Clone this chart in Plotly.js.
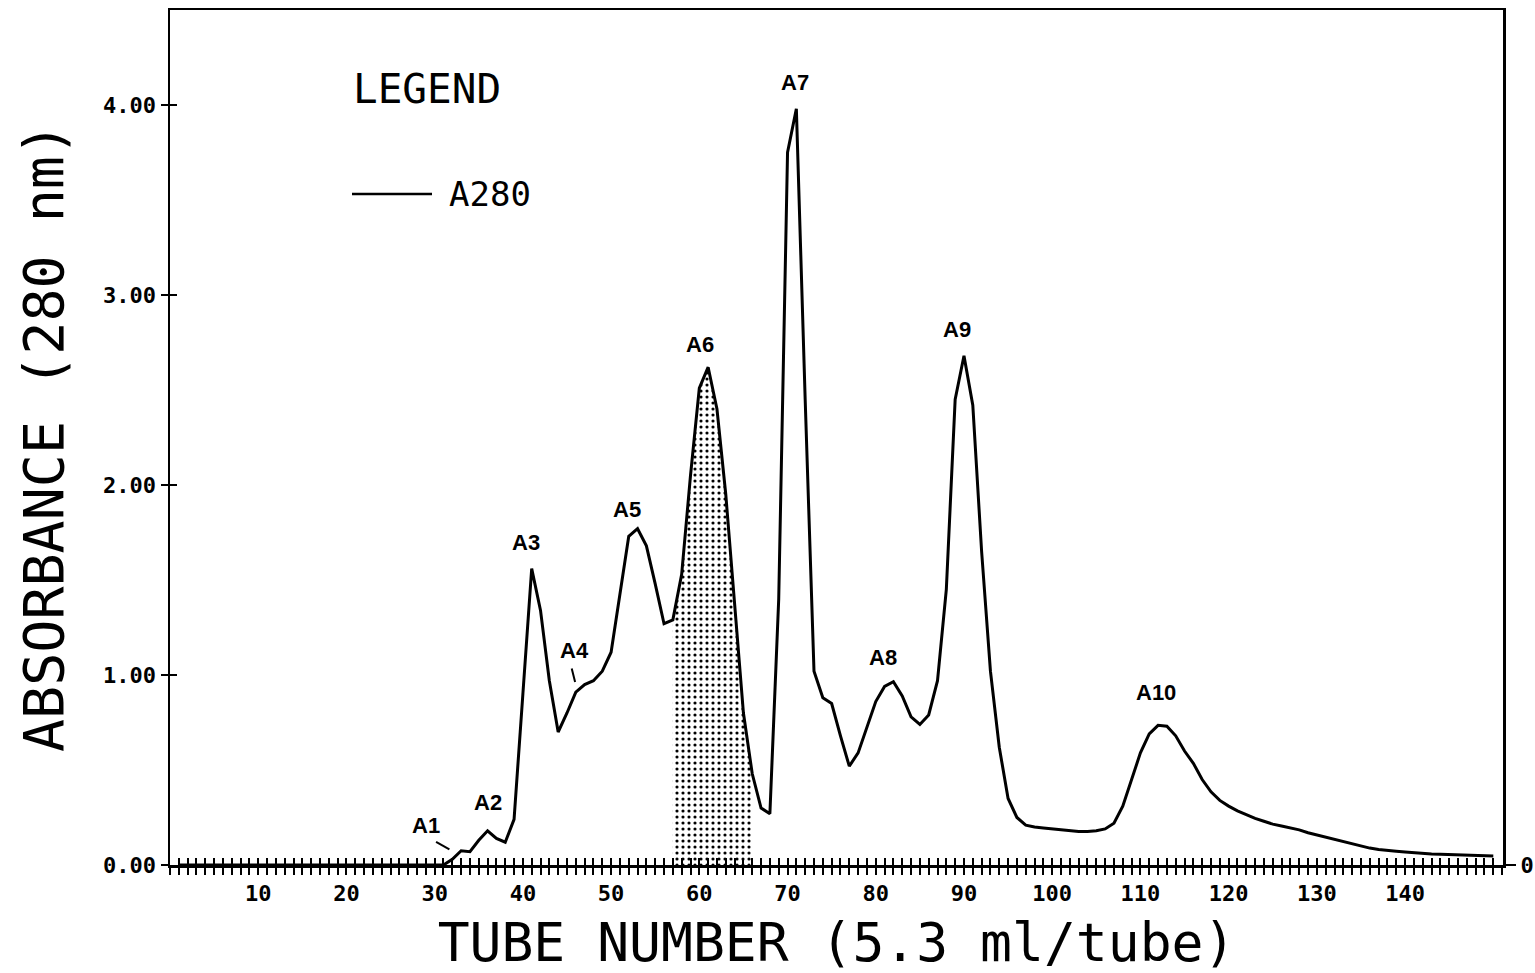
<!DOCTYPE html>
<html>
<head>
<meta charset="utf-8">
<script src="https://cdn.plot.ly/plotly-3.0.1.min.js"></script>
<style>html,body{margin:0;padding:0;background:#fff;}#chart{width:1535px;height:973px;}</style>
</head>
<body>
<div id="chart"></div>
<script>
// Absorbance at 280 nm for tubes 1..150
const absorbance = [
  0,0,0,0,0,0,0,0,0,0,            // 1-10
  0,0,0,0,0,0,0,0,0,0,            // 11-20
  0,0,0,0,0,0,0,0,0,0,            // 21-30
  0.00,0.03,0.075,0.07,0.13,0.18,0.14,0.12,0.24,0.90,   // 31-40
  1.56,1.34,0.97,0.70,0.80,0.91,0.95,0.97,1.02,1.12,    // 41-50
  1.42,1.73,1.77,1.68,1.48,1.27,1.29,1.53,2.05,2.51,    // 51-60
  2.62,2.40,1.95,1.35,0.80,0.48,0.30,0.27,1.40,3.75,    // 61-70
  3.98,2.45,1.02,0.88,0.85,0.68,0.52,0.59,0.73,0.86,    // 71-80
  0.94,0.965,0.89,0.78,0.74,0.79,0.97,1.45,2.45,2.68,   // 81-90
  2.42,1.65,1.02,0.62,0.35,0.25,0.21,0.20,0.195,0.19,   // 91-100
  0.185,0.178,0.176,0.176,0.18,0.19,0.22,0.31,0.45,0.59, // 101-110
  0.69,0.735,0.73,0.68,0.60,0.535,0.45,0.385,0.34,0.31,  // 111-120
  0.285,0.265,0.245,0.23,0.215,0.205,0.197,0.185,0.17,0.158, // 121-130
  0.145,0.133,0.122,0.11,0.099,0.089,0.082,0.076,0.072,0.068, // 131-140
  0.064,0.061,0.058,0.057,0.055,0.054,0.053,0.051,0.049,0.047 // 141-150
];
const firstTube = 1;
const tubes = absorbance.map((_, i) => firstTube + i);

// shaded fraction (tubes)
const shadeStart = 57;
const shadeEnd = 66;

// peak labels
const peakNames = ["A1","A2","A3","A4","A5","A6","A7","A8","A9","A10"];
const peakX = [29.0, 36.0, 40.3, 45.8, 51.8, 60.1, 70.9, 80.8, 89.2, 111.8];
const peakY = [0.21, 0.33, 1.70, 1.13, 1.87, 2.74, 4.12, 1.09, 2.82, 0.91];

// axis ticks
const xTickVals = [10,20,30,40,50,60,70,80,90,100,110,120,130,140];
const xTickText = ["10","20","30","40","50","60","70","80","90","100","110","120","130","140"];
const yTickVals = [0,1,2,3,4];
const yTickText = ["0.00","1.00","2.00","3.00","4.00"];

const XR = [0, 151.1];
const YR = [0, 4.5];

const shadeX = [], shadeY = [];
tubes.forEach((t, i) => { if (t >= shadeStart && t <= shadeEnd) { shadeX.push(t); shadeY.push(absorbance[i]); } });

const traces = [
  { x: shadeX, y: shadeY, type: 'scatter', mode: 'lines', fill: 'tozeroy',
    line: {width: 0, color: 'rgba(0,0,0,0)'},
    fillcolor: 'white',
    fillpattern: {shape: '.', fgcolor: 'black', bgcolor: 'white', size: 6, solidity: 0.22},
    hoverinfo: 'skip', showlegend: false },
  { x: tubes, y: absorbance, type: 'scatter', mode: 'lines', name: 'A280',
    line: {color: 'black', width: 3}, showlegend: false },
  { x: [], y: [], xaxis: 'x2', yaxis: 'y3', type: 'scatter', showlegend: false, hoverinfo: 'skip' },
  { x: [], y: [], xaxis: 'x', yaxis: 'y2', type: 'scatter', showlegend: false, hoverinfo: 'skip' }
];

const mono = 'DejaVu Sans Mono, monospace';
const tickFont = {family: mono, size: 22, color: 'black', weight: 'bold'};

const annotations = peakNames.map((n, i) => ({
  x: peakX[i], y: peakY[i], xref: 'x', yref: 'y', text: n, showarrow: false,
  xanchor: 'center', yanchor: 'middle',
  font: {family: 'Liberation Sans, Arial, sans-serif', size: 22, color: 'black', weight: 'bold'}
}));
annotations.push({x: (427-170)/1333, y: (865-89)/855, xref: 'paper', yref: 'paper', text: 'LEGEND', showarrow: false,
  xanchor: 'center', yanchor: 'middle',
  font: {family: mono, size: 41, color: 'black'}});
annotations.push({x: (490-170)/1333, y: (865-194)/855, xref: 'paper', yref: 'paper', text: 'A280', showarrow: false,
  xanchor: 'center', yanchor: 'middle',
  font: {family: mono, size: 34, color: 'black'}});

const shapes = [
  {type: 'line', xref: 'paper', yref: 'paper', x0: (352-170)/1333, x1: (432-170)/1333, y0: (865-194)/855, y1: (865-194)/855,
   line: {color: 'black', width: 2.5}},
  {type: 'line', xref: 'x', yref: 'y', x0: 30.16, y0: 0.122, x1: 31.67, y1: 0.082, line: {color: 'black', width: 2}},
  {type: 'line', xref: 'x', yref: 'y', x0: 45.54, y0: 1.034, x1: 45.92, y1: 0.963, line: {color: 'black', width: 2}}
];

const layout = {
  width: 1535, height: 973,
  margin: {l: 170, r: 32, t: 10, b: 108},
  paper_bgcolor: 'white', plot_bgcolor: 'white',
  showlegend: false,
  xaxis: {
    range: XR, showgrid: false, zeroline: false,
    showline: true, linecolor: 'black', linewidth: 2.5, mirror: true,
    tickmode: 'array', tickvals: xTickVals, ticktext: xTickText,
    ticks: 'outside', ticklen: 7, tickwidth: 2, tickcolor: 'black',
    minor: {tickmode: 'linear', tick0: 0, dtick: 1, ticks: 'outside', ticklen: 7, tickwidth: 2, tickcolor: 'black', showgrid: false},
    tickfont: tickFont,
    title: {text: 'TUBE NUMBER (5.3 ml/tube)', font: {family: mono, size: 53, color: 'black'}, standoff: 20}
  },
  xaxis2: {
    range: XR, overlaying: 'x', anchor: 'y', side: 'bottom', showgrid: false, zeroline: false, showline: false,
    showticklabels: false, tickmode: 'array', tickvals: xTickVals,
    ticks: 'inside', ticklen: 7, tickwidth: 2, tickcolor: 'black',
    minor: {tickmode: 'linear', tick0: 0, dtick: 1, ticks: 'inside', ticklen: 7, tickwidth: 2, tickcolor: 'black', showgrid: false}
  },
  yaxis: {
    range: YR, showgrid: false, zeroline: false,
    showline: true, linecolor: 'black', linewidth: 2.5, mirror: true,
    tickmode: 'array', tickvals: yTickVals, ticktext: yTickText,
    ticks: 'outside', ticklen: 7, tickwidth: 2, tickcolor: 'black',
    tickfont: tickFont,
    title: {text: 'ABSORBANCE (280 nm)', font: {family: mono, size: 55, color: 'black'}, standoff: 22}
  },
  yaxis2: {
    range: YR, overlaying: 'y', anchor: 'x', side: 'right', showgrid: false, zeroline: false, showline: false,
    tickmode: 'array', tickvals: [0], ticktext: ['0'],
    ticks: 'outside', ticklen: 12, tickwidth: 2, tickcolor: 'black',
    tickfont: tickFont
  },
  yaxis3: {
    range: YR, overlaying: 'y', anchor: 'x', side: 'left', showgrid: false, zeroline: false, showline: false,
    showticklabels: false, tickmode: 'array', tickvals: yTickVals,
    ticks: 'inside', ticklen: 7, tickwidth: 2, tickcolor: 'black'
  },
  annotations: annotations,
  shapes: shapes
};

Plotly.newPlot('chart', traces, layout, {displayModeBar: false, staticPlot: true});
</script>
</body>
</html>
